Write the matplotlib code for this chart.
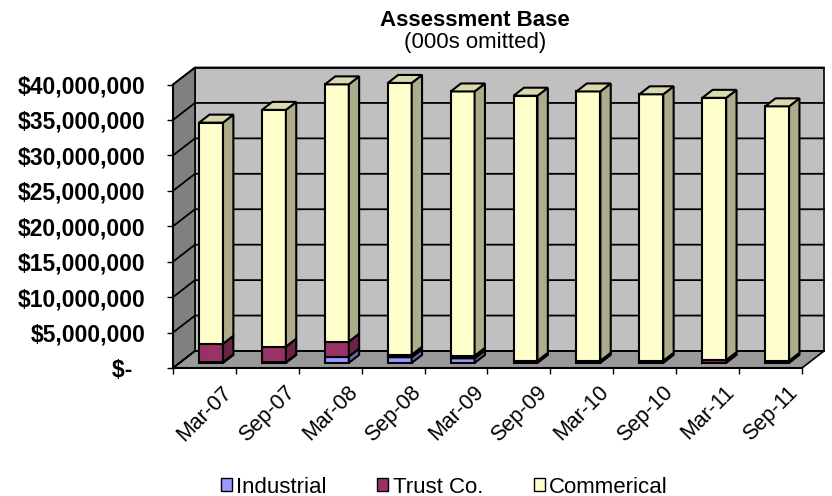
import matplotlib
matplotlib.use("Agg")
import matplotlib.pyplot as plt
import matplotlib.colors as mcolors
from matplotlib.patches import Polygon, Patch
import numpy as np

# values in millions of dollars
periods = ["Mar-07", "Sep-07", "Mar-08", "Sep-08", "Mar-09",
           "Sep-09", "Mar-10", "Sep-10", "Mar-11", "Sep-11"]
industrial = [0.1, 0.1, 0.9, 0.8, 0.65, 0, 0, 0, 0, 0]
trust = [2.6, 2.2, 2.1, 0.35, 0.35, 0.3, 0.3, 0.3, 0.4, 0.3]
commercial = [31.2, 33.4, 36.3, 38.35, 37.3, 37.4, 38.0, 37.6, 37.0, 35.9]
series_names = ["Industrial", "Trust Co.", "Commerical"]
series_colors = ["#9999FF", "#993366", "#FFFFCC"]
y_ticks = [0, 5, 10, 15, 20, 25, 30, 35, 40]

plt.rcParams["font.family"] = ["Liberation Sans", "DejaVu Sans"]

DX, DY = 0.35, 2.4   # depth of the fake 3d box (x units, $M)
F0, F1 = 0.3, 0.77   # where the bars sit inside the depth
BAR_W = 0.38


def shade(color, k):  # darker version of a colour for the side faces
    return tuple(np.array(mcolors.to_rgb(color)) * k)


def money(v):
    if v == 0:
        return "$-  "
    return "${:,.0f}".format(v * 1e6)


n = len(periods)
fig = plt.figure(figsize=(8.32, 4.96), dpi=100)
ax = fig.add_axes([173 / 832, 128 / 496, 651 / 832, 300.5 / 496])
ax.set_xlim(0, n + DX)
ax.set_ylim(0, y_ticks[-1] + DY)
for s in ax.spines.values():
    s.set_visible(False)

top = y_ticks[-1]
# walls and floor
ax.add_patch(Polygon([(DX, DY), (n + DX, DY), (n + DX, top + DY), (DX, top + DY)],
                     fc="#C0C0C0", ec="black", lw=1.2, clip_on=False, zorder=1))
ax.add_patch(Polygon([(0, 0), (DX, DY), (DX, top + DY), (0, top)],
                     fc="#808080", ec="black", lw=1.2, clip_on=False, zorder=1))
ax.add_patch(Polygon([(0, 0), (n, 0), (n + DX, DY), (DX, DY)],
                     fc="#999999", ec="black", lw=1.2, clip_on=False, zorder=1))
for v in y_ticks:
    ax.plot([0, DX, n + DX], [v, v + DY, v + DY], color="black", lw=1.3,
            clip_on=False, zorder=2)

# stacked 3d-looking columns
bx, by = (F1 - F0) * DX, (F1 - F0) * DY
z = 3
for i in range(n):
    base = 0
    for vals, col in zip([industrial, trust, commercial], series_colors):
        h = vals[i]
        if h <= 0:
            continue
        xl = i + 0.5 + F0 * DX - BAR_W / 2
        xr = xl + BAR_W
        y0 = base + F0 * DY
        y1 = y0 + h
        ax.add_patch(Polygon([(xl, y0), (xr, y0), (xr, y1), (xl, y1)],
                             fc=col, ec="black", lw=1.5, zorder=z, clip_on=False))
        ax.add_patch(Polygon([(xr, y0), (xr + bx, y0 + by), (xr + bx, y1 + by), (xr, y1)],
                             fc=shade(col, 0.68), ec="black", lw=1.5, zorder=z, clip_on=False))
        ax.add_patch(Polygon([(xl, y1), (xr, y1), (xr + bx, y1 + by), (xl + bx, y1 + by)],
                             fc=shade(col, 0.85), ec="black", lw=1.5, zorder=z, clip_on=False))
        z += 1
        base += h

# front axes
ax.plot([0, 0], [0, top], color="black", lw=1.5, clip_on=False, zorder=z)
ax.plot([0, n], [0, 0], color="black", lw=1.5, clip_on=False, zorder=z)

ax.set_yticks(y_ticks)
ax.set_yticklabels([money(v) for v in y_ticks], fontsize=16.5, fontweight="bold")
ax.tick_params(axis="y", length=4, width=1, pad=16)

ax.set_xticks(range(n + 1))
ax.set_xticklabels([])
ax.set_xticks([i + 0.5 for i in range(n)], minor=True)
ax.set_xticklabels(periods, minor=True, fontsize=15.5, rotation=45, ha="center")
ax.tick_params(axis="x", which="major", length=4, width=1)
ax.tick_params(axis="x", which="minor", length=0, pad=10)

fig.text(0.571, 0.959, "Assessment Base", ha="center", va="center",
         fontsize=16, fontweight="bold")
fig.text(0.571, 0.915, "(000s omitted)", ha="center", va="center", fontsize=16)

handles = [Patch(fc=c, ec="black", lw=1) for c in series_colors]
fig.legend(handles, series_names, loc="center", bbox_to_anchor=(0.534, 0.018),
           ncol=3, frameon=False, fontsize=16, handlelength=0.5, handleheight=0.5,
           handletextpad=0.2, columnspacing=2.27, borderaxespad=0)

fig.savefig("out.png", dpi=100, facecolor="white")
